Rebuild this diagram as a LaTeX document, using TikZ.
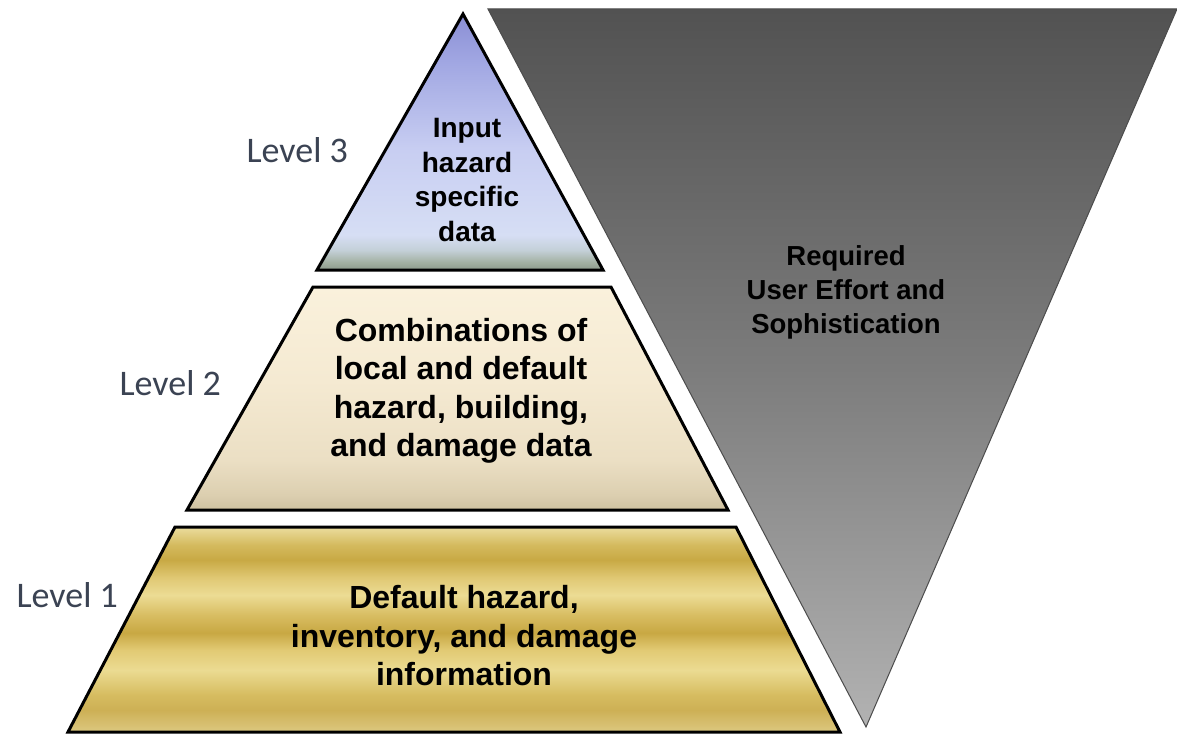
\documentclass[tikz,border=0pt]{standalone}
\usepackage{fontspec}
\setmainfont{Liberation Sans}
\newfontfamily\levelfont{Carlito}
\definecolor{levelgray}{HTML}{3B4353}
\definecolor{ta}{HTML}{8C9A8A}
\definecolor{tb}{HTML}{A4B2A4}
\definecolor{tc}{HTML}{C4D0D8}
\definecolor{td}{HTML}{D6DEF4}
\definecolor{te}{HTML}{C8CEF2}
\definecolor{tf}{HTML}{A0A6E2}
\definecolor{tg}{HTML}{8A8ED4}
\definecolor{ma}{HTML}{CFC1A0}
\definecolor{mb}{HTML}{DCCFB0}
\definecolor{mc}{HTML}{EBDFC4}
\definecolor{md}{HTML}{F5EAD2}
\definecolor{me}{HTML}{FAF1DC}
\definecolor{ba}{HTML}{DCC880}
\definecolor{bb}{HTML}{CDB055}
\definecolor{bc}{HTML}{D6BC60}
\definecolor{bd}{HTML}{EBDB92}
\definecolor{be}{HTML}{E2CA74}
\definecolor{bf}{HTML}{C8A843}
\definecolor{bg}{HTML}{D8BD62}
\definecolor{bh}{HTML}{ECDC94}
\definecolor{bi}{HTML}{E0C874}
\definecolor{bj}{HTML}{C8A944}
\definecolor{bk}{HTML}{D4BA5E}
\definecolor{bl}{HTML}{EBDD9E}
\definecolor{ga}{HTML}{B2B2B2}
\definecolor{gb}{HTML}{7C7C7C}
\definecolor{gc}{HTML}{525252}
\pgfdeclareverticalshading{topfill}{100bp}{color(0bp)=(ta); color(25bp)=(ta); color(26.6bp)=(tb);
  color(28.9bp)=(tc); color(31.8bp)=(td); color(48.4bp)=(te); color(66bp)=(tf); color(75bp)=(tg); color(100bp)=(tg)}
\pgfdeclareverticalshading{midfill}{100bp}{color(0bp)=(ma); color(25bp)=(ma); color(28.4bp)=(mb);
  color(36.2bp)=(mc); color(54.1bp)=(md); color(75bp)=(me); color(100bp)=(me)}
\pgfdeclareverticalshading{basefill}{100bp}{color(0bp)=(ba); color(25bp)=(ba); color(30.4bp)=(bb);
  color(34bp)=(bc); color(40.1bp)=(bd); color(45bp)=(be); color(49.2bp)=(bf); color(53.5bp)=(bg);
  color(58.4bp)=(bh); color(62.6bp)=(bi); color(67bp)=(bj); color(70.6bp)=(bk); color(75bp)=(bl); color(100bp)=(bl)}
\pgfdeclareverticalshading{effortfill}{100bp}{color(0bp)=(ga); color(25bp)=(ga); color(50bp)=(gb);
  color(75bp)=(gc); color(100bp)=(gc)}
\begin{document}
\begin{tikzpicture}[x=1pt,y=-1pt,
    tier/.style={draw=black,line width=3pt},
    tiertext/.style={align=center,text=black,font=\bfseries\fontsize{32}{38.5}\selectfont},
    levellabel/.style={anchor=west,text=levelgray,font=\levelfont\fontsize{36}{40}\selectfont}]
  \useasboundingbox (0,0) rectangle (1177,735);
  \fill[white] (0,0) rectangle (1177,735);
  \draw[shading=effortfill,draw=black!70,line width=1pt] (488,9) -- (1177,9) -- (866,727) -- cycle;
  \draw[tier,shading=topfill] (463,14) -- (603,270) -- (317,270) -- cycle;
  \draw[tier,shading=midfill] (313,287) -- (611,287) -- (728,510) -- (187,510) -- cycle;
  \draw[tier,shading=basefill] (175,527) -- (736,527) -- (840,732) -- (68,732) -- cycle;
  \node[tiertext,font=\bfseries\fontsize{28}{34.5}\selectfont] (input) at (467,180) {Input\\hazard\\specific\\data};
  \node[tiertext] (combo) at (461,391) {Combinations of\\local and default\\hazard, building,\\and damage data};
  \node[tiertext] (default) at (464,636) {Default hazard,\\inventory, and damage\\information};
  \node[tiertext,font=\bfseries\fontsize{27.5}{34}\selectfont] (effort) at (846,292) {Required\\User Effort and\\Sophistication};
  \node[levellabel] (lvl3) at (243,150) {Level 3};
  \node[levellabel] (lvl2) at (116,383) {Level 2};
  \node[levellabel] (lvl1) at (13,595) {Level 1};
\end{tikzpicture}
\end{document}
